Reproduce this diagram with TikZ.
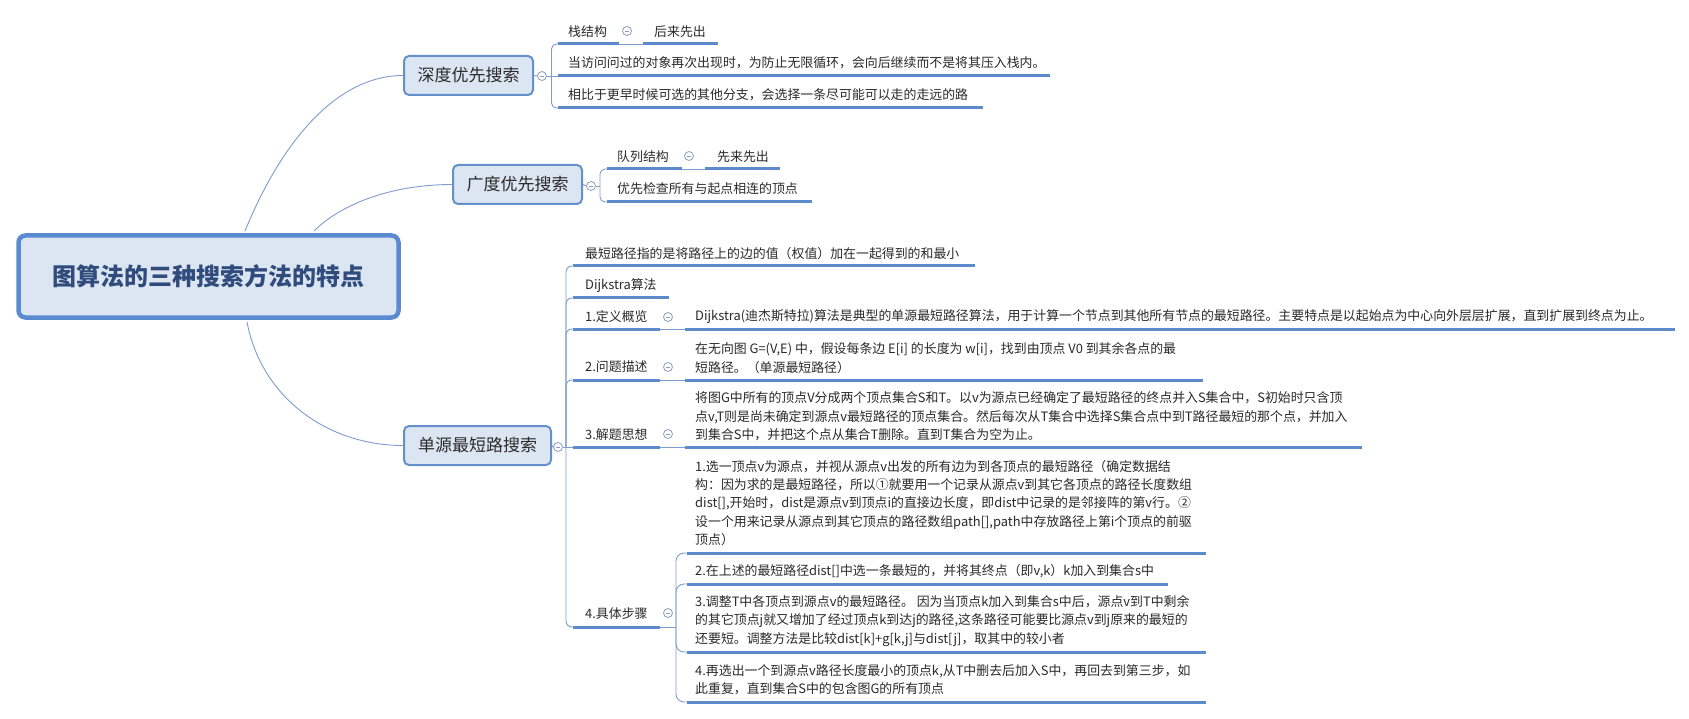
\documentclass[tikz,border=0pt]{standalone}
\usepackage{fontspec}
\setmainfont{Noto Sans CJK SC}
\definecolor{lineblue}{HTML}{5D8ACB}
\definecolor{conn}{HTML}{7F9DCC}
\definecolor{boxfill}{HTML}{DCE5F2}
\definecolor{boxdraw}{HTML}{6690CB}
\definecolor{rootdraw}{HTML}{5A8AD0}
\definecolor{roottext}{HTML}{2F4C7C}
\definecolor{txt}{HTML}{2A2A2A}
\definecolor{foldc}{HTML}{8C9DBB}
\begin{document}
\begin{tikzpicture}[x=1pt,y=-1pt,
  rootbox/.style={draw=rootdraw, line width=4.5pt, fill=boxfill, rounded corners=7pt,
    minimum width=380pt, minimum height=82pt, inner sep=0pt,
    font=\fontsize{24}{28}\selectfont\bfseries, text=roottext},
  topic/.style={draw=boxdraw, line width=2pt, fill=boxfill, rounded corners=5pt,
    minimum height=39pt, inner sep=0pt, font=\fontsize{17}{20}\selectfont, text=txt},
  leaf/.style={anchor=west, inner sep=0pt, align=left,
    font=\fontsize{12.9}{18.4}\selectfont, text=txt},
  uline/.style={draw=lineblue, line width=3pt},
  thin/.style={draw=conn, line width=0.9pt},
  fold/.style={circle, draw=foldc, line width=0.8pt, fill=white, minimum size=9pt, inner sep=0pt,
    path picture={\draw[foldc, line width=0.8pt]
      ([xshift=-2.4pt]path picture bounding box.center) -- ([xshift=2.4pt]path picture bounding box.center);}},
]
\useasboundingbox (0,0) rectangle (1689,719);
\fill[white] (0,0) rectangle (1689,719);

% ---------- root and main topics ----------
\node[rootbox] (root) at (208.5,276.5) {图算法的三种搜索方法的特点};
\node[topic, minimum width=129pt] (dfs) at (468.5,75.5) {深度优先搜索};
\node[topic, minimum width=129pt] (bfs) at (517.5,184.5) {广度优先搜索};
\node[topic, minimum width=147pt] (sp) at (477.5,445.5) {单源最短路搜索};

\coordinate (r1) at (245,231);
\coordinate (r2) at (314,231);
\coordinate (r3) at (247,322);
\draw[thin] (r1) .. controls (280,145) and (335,75.5) .. (dfs.west);
\draw[thin] (r2) .. controls (340,205) and (390,184.5) .. (bfs.west);
\draw[thin] (r3) .. controls (262,400) and (330,445.5) .. (sp.west);

% ---------- DFS ----------
\node[fold] (f1) at (542,76) {};
\draw[thin] (dfs.east) -- (f1.west);
\node[leaf] (c11) at (568,31.5) {栈结构};
\node[fold] (f11) at (627,31) {};
\node[leaf] (c12) at (654,31.5) {后来先出};
\node[leaf] (c13) at (568,63) {当访问问过的对象再次出现时，为防止无限循环，会向后继续而不是将其压入栈内。};
\node[leaf] (c14) at (568,95) {相比于更早时候可选的其他分支，会选择一条尽可能可以走的走远的路};
\coordinate (u11a) at (558,44); \coordinate (u11b) at (619,44);
\coordinate (u12a) at (643,44); \coordinate (u12b) at (718,44);
\coordinate (u13a) at (558,76); \coordinate (u13b) at (1050,76);
\coordinate (u14a) at (558,108); \coordinate (u14b) at (983,108);
\draw[uline] (u11a) -- (u11b);
\draw[uline] (u12a) -- (u12b);
\draw[uline] (u13a) -- (u13b);
\draw[uline] (u14a) -- (u14b);
\draw[thin] (u11b) -- (u12a);
\draw[thin] (f1.east) -- (u13a);
\draw[thin, rounded corners=5pt] (551.5,76) |- (u11a);
\draw[thin, rounded corners=5pt] (551.5,76) |- (u14a);

% ---------- BFS ----------
\node[fold] (f2) at (591,186) {};
\draw[thin] (bfs.east) -- (f2.west);
\node[leaf] (c21) at (617,156.5) {队列结构};
\node[fold] (f21) at (689,156) {};
\node[leaf] (c22) at (717,156.5) {先来先出};
\node[leaf] (c23) at (617,188.5) {优先检查所有与起点相连的顶点};
\coordinate (u21a) at (607,169); \coordinate (u21b) at (682,169);
\coordinate (u22a) at (705,169); \coordinate (u22b) at (780,169);
\coordinate (u23a) at (607,202); \coordinate (u23b) at (812,202);
\draw[uline] (u21a) -- (u21b);
\draw[uline] (u22a) -- (u22b);
\draw[uline] (u23a) -- (u23b);
\draw[thin] (u21b) -- (u22a);
\draw[thin] (f2.east) -- (600,186);
\draw[thin, rounded corners=5pt] (600,186) |- (u21a);
\draw[thin, rounded corners=5pt] (600,186) |- (u23a);

% ---------- Single source shortest path ----------
\node[fold] (f3) at (558,447) {};
\draw[thin] (sp.east) -- (f3.west);

\node[leaf] (c31) at (585,253.5) {最短路径指的是将路径上的边的值（权值）加在一起得到的和最小};
\node[leaf] (c32) at (585,286) {Dijkstra算法};
\node[leaf] (c33) at (585,317) {1.定义概览};
\node[leaf] (c34) at (585,367) {2.问题描述};
\node[leaf] (c35) at (585,434.5) {3.解题思想};
\node[leaf] (c36) at (585,613.5) {4.具体步骤};
\node[fold] (f33) at (668,317) {};
\node[fold] (f34) at (668,367) {};
\node[fold] (f35) at (668,434) {};
\node[fold] (f36) at (668,613) {};

\node[leaf] (d33) at (695,317) {Dijkstra(迪杰斯特拉)算法是典型的单源最短路径算法，用于计算一个节点到其他所有节点的最短路径。主要特点是以起始点为中心向外层层扩展，直到扩展到终点为止。};
\node[leaf] (d34) at (695,358) {在无向图 G=(V,E) 中，假设每条边 E[i] 的长度为 w[i]，找到由顶点 V0 到其余各点的最\\短路径。（单源最短路径）};
\node[leaf] (d35) at (695,416.5) {将图G中所有的顶点V分成两个顶点集合S和T。以v为源点已经确定了最短路径的终点并入S集合中，S初始时只含顶\\点v,T则是尚未确定到源点v最短路径的顶点集合。然后每次从T集合中选择S集合点中到T路径最短的那个点，并加入\\到集合S中，并把这个点从集合T删除。直到T集合为空为止。};

\coordinate (u31a) at (573,266); \coordinate (u31b) at (975,266);
\coordinate (u32a) at (573,298); \coordinate (u32b) at (669,298);
\coordinate (u33a) at (573,329); \coordinate (u33b) at (660,329);
\coordinate (u34a) at (573,380); \coordinate (u34b) at (660,380);
\coordinate (u35a) at (573,447); \coordinate (u35b) at (660,447);
\coordinate (u36a) at (573,627); \coordinate (u36b) at (660,627);
\coordinate (v33a) at (685,329); \coordinate (v33b) at (1675,329);
\coordinate (v34a) at (685,380); \coordinate (v34b) at (1203,380);
\coordinate (v35a) at (685,447); \coordinate (v35b) at (1362,447);
\foreach \n in {31,32,33,34,35,36} \draw[uline] (u\n a) -- (u\n b);
\foreach \n in {33,34,35} {
  \draw[uline] (v\n a) -- (v\n b);
  \draw[thin] (u\n b) -- (v\n a);
}
\draw[thin] (f3.east) -- (u35a);
\foreach \n in {31,32,33,34,36} \draw[thin, rounded corners=6pt] (566,447) |- (u\n a);

% ---------- steps ----------
\node[leaf] (s1) at (695,503) {1.选一顶点v为源点，并视从源点v出发的所有边为到各顶点的最短路径（确定数据结\\构：因为求的是最短路径，所以①就要用一个记录从源点v到其它各顶点的路径长度数组\\dist[],开始时，dist是源点v到顶点i的直接边长度，即dist中记录的是邻接阵的第v行。②\\设一个用来记录从源点到其它顶点的路径数组path[],path中存放路径上第i个顶点的前驱\\顶点）};
\node[leaf] (s2) at (695,571) {2.在上述的最短路径dist[]中选一条最短的，并将其终点（即v,k）k加入到集合s中};
\node[leaf] (s3) at (695,621) {3.调整T中各顶点到源点v的最短路径。 因为当顶点k加入到集合s中后，源点v到T中剩余\\的其它顶点j就又增加了经过顶点k到达j的路径,这条路径可能要比源点v到j原来的最短的\\还要短。调整方法是比较dist[k]+g[k,j]与dist[j]，取其中的较小者};
\node[leaf] (s4) at (695,680) {4.再选出一个到源点v路径长度最小的顶点k,从T中删去后加入S中，再回去到第三步，如\\此重复，直到集合S中的包含图G的所有顶点};
\coordinate (w1a) at (687,553); \coordinate (w1b) at (1206,553);
\coordinate (w2a) at (687,584); \coordinate (w2b) at (1168,584);
\coordinate (w3a) at (687,652); \coordinate (w3b) at (1206,652);
\coordinate (w4a) at (687,702); \coordinate (w4b) at (1206,702);
\foreach \n in {1,2,3,4} {
  \draw[uline] (w\n a) -- (w\n b);
  \draw[thin, rounded corners=8pt] (676,627) |- (w\n a);
}
\draw[thin] (u36b) -- (676,627);
\end{tikzpicture}
\end{document}
